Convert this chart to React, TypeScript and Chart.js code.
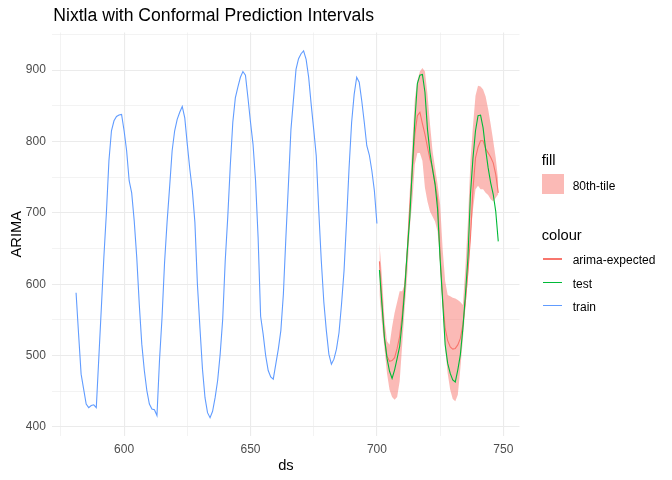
import { useEffect, useRef } from "react";
import { Chart, registerables } from "chart.js";

Chart.register(...registerables);

// ds of the first point of each series
const TRAIN_START = 581;
const TEST_START = 701;

const trainValues = [
  588, 530, 474, 453, 432, 427, 430, 431, 427, 497,
  567, 638, 700, 773, 815, 829, 835, 837, 838, 815,
  787, 745, 728, 689, 638, 572, 516, 479, 451, 432,
  425, 424, 416, 493, 553, 630, 687, 736, 787, 815,
  831, 841, 849, 833, 796, 761, 731, 687, 600, 539,
  481, 441, 420, 413, 422, 441, 465, 502, 551, 633,
  694, 766, 827, 861, 876, 890, 898, 893, 861, 827,
  796, 745, 666, 555, 530, 500, 479, 470, 467, 488,
  509, 535, 586, 666, 740, 817, 859, 901, 916, 923,
  927, 915, 890, 852, 817, 780, 703, 633, 575, 535,
  502, 488, 495, 509, 532, 572, 619, 689, 764, 827,
  866, 890, 883, 857, 827, 794, 781, 759, 731, 685,
];

const testValues = [
  620, 571, 524, 496, 478, 468, 480, 496, 513, 548,
  592, 646, 693, 763, 829, 881, 893, 894, 869, 817,
  784, 761, 740, 705, 635, 576, 515, 489, 475, 466,
  463, 480, 501, 538, 585, 637, 726, 777, 815, 836,
  837, 819, 789, 763, 742, 726, 702, 660,
];

const arimaExpected = [
  632, 578, 524, 499, 492, 493, 497, 510, 527, 557,
  599, 646, 707, 759, 810, 836, 841, 825, 810, 792,
  775, 763, 742, 719, 640, 580, 538, 521, 512, 509,
  510, 515, 524, 543, 576, 618, 665, 733, 777, 792,
  801, 801, 790, 784, 778, 770, 754, 728,
];

const band80Lo = [
  585, 545, 510, 475, 452, 442, 438, 442, 464, 515,
  567, 613, 679, 716, 768, 784, 784, 773, 735, 716,
  702, 695, 688, 674, 630, 569, 510, 475, 452, 439,
  436, 445, 482, 522, 567, 609, 665, 705, 733, 738,
  733, 733, 728, 725, 719, 716, 721, 726,
];

const band80Hi = [
  658, 610, 550, 520, 515, 540, 560, 575, 590, 590,
  600, 660, 730, 795, 860, 885, 898, 903, 898, 866,
  824, 787, 763, 740, 712, 649, 604, 585, 583, 581,
  580, 578, 575, 571, 623, 688, 773, 822, 864, 878,
  877, 873, 863, 845, 824, 801, 777, 745,
];

const xTicks = [575, 600, 625, 650, 675, 700, 725, 750];
const yTicks = [400, 450, 500, 550, 600, 650, 700, 750, 800, 850, 900, 950];

const FONT = "'Liberation Sans', Arial, sans-serif";
const RED = "#F8766D";
const GREEN = "#00BA38";
const BLUE = "#619CFF";
const BAND = "rgba(248, 118, 109, 0.5)";

const toPoints = (start: number, values: number[]) =>
  values.map((y, i) => ({ x: start + i, y }));

export default function App() {
  const canvasRef = useRef<HTMLCanvasElement | null>(null);

  useEffect(() => {
    if (!canvasRef.current) return;

    const chart = new Chart(canvasRef.current, {
      type: "line",
      data: {
        datasets: [
          {
            label: "lo",
            data: toPoints(TEST_START, band80Lo),
            borderWidth: 0,
            borderColor: "transparent",
            pointRadius: 0,
            fill: false,
            order: 5,
          },
          {
            label: "80th-tile",
            data: toPoints(TEST_START, band80Hi),
            borderWidth: 0,
            borderColor: "transparent",
            backgroundColor: BAND,
            pointRadius: 0,
            fill: "-1",
            order: 4,
          },
          {
            label: "train",
            data: toPoints(TRAIN_START, trainValues),
            borderColor: BLUE,
            borderWidth: 1.1,
            pointRadius: 0,
            order: 2,
          },
          {
            label: "arima-expected",
            data: toPoints(TEST_START, arimaExpected),
            borderColor: RED,
            borderWidth: 1.1,
            pointRadius: 0,
            order: 1,
          },
          {
            label: "test",
            data: toPoints(TEST_START, testValues),
            borderColor: GREEN,
            borderWidth: 1.1,
            pointRadius: 0,
            order: 0,
          },
        ],
      },
      options: {
        animation: false,
        responsive: false,
        devicePixelRatio: 1,
        layout: { padding: { top: 32.5, right: 152.5, left: 0, bottom: 0 } },
        plugins: {
          legend: { display: false },
          tooltip: { enabled: false },
        },
        elements: { line: { tension: 0 } },
        scales: {
          x: {
            type: "linear",
            min: 571.6,
            max: 756.4,
            afterBuildTicks: (scale: any) => {
              scale.ticks = xTicks.map((v) => ({ value: v }));
            },
            afterFit: (scale: any) => {
              scale.height = 44;
            },
            border: { display: false },
            grid: {
              drawTicks: false,
              color: "#EBEBEB",
              lineWidth: (ctx: any) => (ctx.tick && ctx.tick.value % 50 === 0 ? 1.1 : 0.6),
            },
            ticks: {
              autoSkip: false,
              maxRotation: 0,
              padding: 6,
              color: "#4D4D4D",
              font: { family: FONT, size: 12 },
              callback: (value: number | string) => (Number(value) % 50 === 0 ? String(value) : ""),
            },
            title: {
              display: true,
              text: "ds",
              color: "#000000",
              font: { family: FONT, size: 14.7 },
              padding: { top: 0, bottom: 5 },
            },
          },
          y: {
            type: "linear",
            min: 387.3,
            max: 952.7,
            afterBuildTicks: (scale: any) => {
              scale.ticks = yTicks.map((v) => ({ value: v }));
            },
            afterFit: (scale: any) => {
              scale.width = 52.3;
            },
            border: { display: false },
            grid: {
              drawTicks: false,
              color: "#EBEBEB",
              lineWidth: (ctx: any) => (ctx.tick && ctx.tick.value % 100 === 0 ? 1.1 : 0.6),
            },
            ticks: {
              padding: 6.5,
              color: "#4D4D4D",
              font: { family: FONT, size: 12 },
              callback: (value: number | string) => (Number(value) % 100 === 0 ? String(value) : ""),
            },
            title: {
              display: true,
              text: "ARIMA",
              color: "#000000",
              font: { family: FONT, size: 14.7 },
              padding: { top: 8, bottom: 0 },
            },
          },
        },
      },
    });

    return () => {
      chart.destroy();
    };
  }, []);

  const text = (size: number): React.CSSProperties => ({
    position: "absolute",
    fontFamily: FONT,
    fontSize: size,
    lineHeight: 1,
    color: "#000000",
    whiteSpace: "nowrap",
  });

  const keyLine = (top: number, color: string): React.CSSProperties => ({
    position: "absolute",
    left: 543.3,
    top: top - 0.55,
    width: 18.4,
    height: 1.1,
    background: color,
  });

  return (
    <div
      style={{
        position: "fixed",
        left: 0,
        top: 0,
        width: 672,
        height: 480,
        background: "#ffffff",
        overflow: "hidden",
      }}
    >
      <canvas ref={canvasRef} width={672} height={480} style={{ position: "absolute", left: 0, top: 0 }} />
      <div style={{ ...text(17.6), left: 53.3, top: 6.9 }}>Nixtla with Conformal Prediction Intervals</div>

      <div style={{ ...text(14.7), left: 541.7, top: 152.6 }}>fill</div>
      <div style={{ position: "absolute", left: 542, top: 174, width: 22, height: 20.3, background: BAND }} />
      <div style={{ ...text(12), left: 572.7, top: 179.8 }}>80th-tile</div>

      <div style={{ ...text(14.7), left: 541.7, top: 227.6 }}>colour</div>
      <div style={keyLine(259, RED)} />
      <div style={{ ...text(12), left: 572.7, top: 253.8 }}>arima-expected</div>
      <div style={keyLine(282.7, GREEN)} />
      <div style={{ ...text(12), left: 572.7, top: 277.5 }}>test</div>
      <div style={keyLine(305.7, BLUE)} />
      <div style={{ ...text(12), left: 572.7, top: 300.5 }}>train</div>
    </div>
  );
}
